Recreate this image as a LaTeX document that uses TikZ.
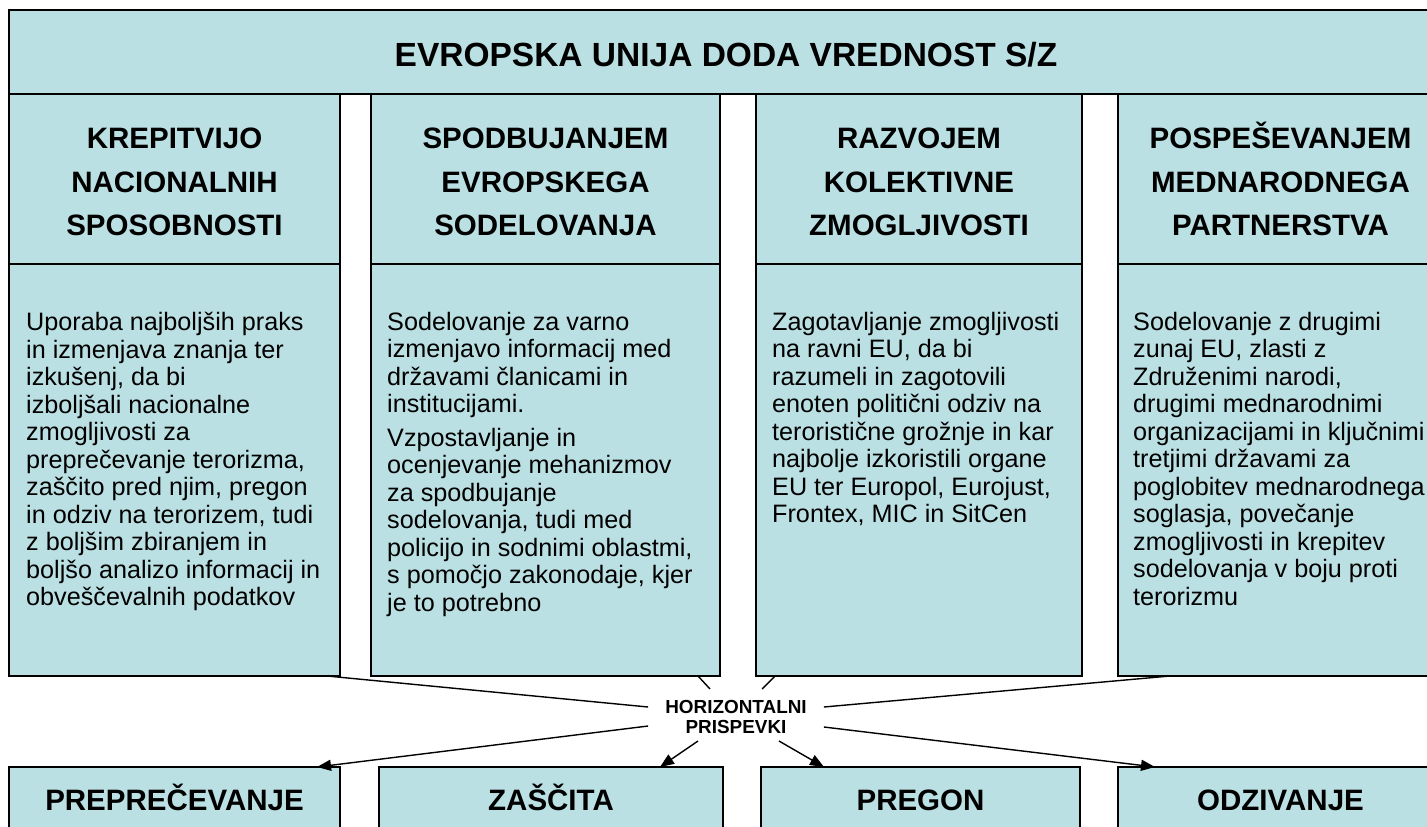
\documentclass[tikz,border=0pt]{standalone}
\usepackage{fontspec}
\setmainfont{Liberation Sans}
\usetikzlibrary{calc,positioning,arrows.meta}
\definecolor{boxblue}{RGB}{187,224,227}
\tikzstyle{banner} = [rectangle, draw=black, fill=boxblue, line width=1.5pt, outer sep=0pt, inner sep=0pt, minimum height=84pt, font=\fontsize{33.5}{40}\selectfont\bfseries]
\tikzstyle{head} = [rectangle, draw=black, fill=boxblue, line width=1.5pt, outer sep=0pt, inner sep=0pt, minimum height=170pt, align=center, font=\fontsize{29.5}{43.5}\selectfont\bfseries]
\tikzstyle{bodybox} = [rectangle, draw=black, fill=boxblue, line width=1.5pt, outer sep=0pt, minimum height=412pt]
\tikzstyle{bodytext} = [inner sep=0pt, align=left, font=\fontsize{25.2}{27.5}\selectfont]
\tikzstyle{outcome} = [rectangle, draw=black, fill=boxblue, line width=1.5pt, outer sep=0pt, inner sep=0pt, minimum height=66pt, text height=21pt, text depth=0pt, font=\fontsize{29.5}{36}\selectfont\bfseries]
\tikzstyle{contrib} = [inner xsep=17pt, inner ysep=4pt, align=center, font=\fontsize{18.9}{20}\selectfont\bfseries]
\tikzstyle{link} = [line width=1.4pt]
\tikzstyle{flow} = [line width=1.4pt, -{Triangle[length=14pt,width=11pt]}]

\begin{document}
\begin{tikzpicture}[x=1pt, y=-1pt]
    \useasboundingbox (0,0) rectangle (1427,827);
    \clip (0,0) rectangle (1427,827);

    \node(title)[banner, anchor=north west, minimum width=1434pt] at (9,10) {EVROPSKA UNIJA DODA VREDNOST S/Z\vphantom{Š}};

    % column headers
    \node(head1)[head, minimum width=331pt, below right=0pt and 0pt of title.south west] {KREPITVIJO\vphantom{Š}\\NACIONALNIH\\SPOSOBNOSTI};
    \node(head2)[head, minimum width=349pt, right=31pt of head1] {SPODBUJANJEM\vphantom{Š}\\EVROPSKEGA\\SODELOVANJA};
    \node(head3)[head, minimum width=326pt, right=36pt of head2] {RAZVOJEM\vphantom{Š}\\KOLEKTIVNE\\ZMOGLJIVOSTI};
    \node(head4)[head, minimum width=325pt, right=36pt of head3] {POSPEŠEVANJEM\\MEDNARODNEGA\\PARTNERSTVA};

    % column bodies
    \node(body1)[bodybox, minimum width=331pt, below=0pt of head1] {};
    \node(body2)[bodybox, minimum width=349pt, below=0pt of head2] {};
    \node(body3)[bodybox, minimum width=326pt, below=0pt of head3] {};
    \node(body4)[bodybox, minimum width=325pt, below=0pt of head4] {};

    \node(text1)[bodytext, below right=48pt and 17pt of body1.north west] {Uporaba najboljših praks\\in izmenjava znanja ter\\izkušenj, da bi\\izboljšali nacionalne\\zmogljivosti za\\preprečevanje terorizma,\\zaščito pred njim, pregon\\in odziv na terorizem, tudi\\z boljšim zbiranjem in\\boljšo analizo informacij in\\obveščevalnih podatkov};
    \node(text2)[bodytext, below right=48pt and 16pt of body2.north west] {Sodelovanje za varno\\izmenjavo informacij med\\državami članicami in\\institucijami.\\[6pt]Vzpostavljanje in\\ocenjevanje mehanizmov\\za spodbujanje\\sodelovanja, tudi med\\policijo in sodnimi oblastmi,\\s pomočjo zakonodaje, kjer\\je to potrebno};
    \node(text3)[bodytext, below right=48pt and 16pt of body3.north west] {Zagotavljanje zmogljivosti\\na ravni EU, da bi\\razumeli in zagotovili\\enoten politični odziv na\\teroristične grožnje in kar\\najbolje izkoristili organe\\EU ter Europol, Eurojust,\\Frontex, MIC in SitCen};
    \node(text4)[bodytext, below right=48pt and 15pt of body4.north west] {Sodelovanje z drugimi\\zunaj EU, zlasti z\\Združenimi narodi,\\drugimi mednarodnimi\\organizacijami in ključnimi\\tretjimi državami za\\poglobitev mednarodnega\\soglasja, povečanje\\zmogljivosti in krepitev\\sodelovanja v boju proti\\terorizmu};

    \node(contrib)[contrib] at (736,717) {HORIZONTALNI\\PRISPEVKI};

    % outcome boxes
    \node(bot1)[outcome, minimum width=331pt, below right=91pt and 0pt of body1.south west] {PREPREČEVANJE};
    \node(bot2)[outcome, minimum width=344pt, right=39pt of bot1] {ZAŠČITA};
    \node(bot3)[outcome, minimum width=319pt, right=38pt of bot2] {PREGON};
    \node(bot4)[outcome, minimum width=325pt, right=38pt of bot3] {ODZIVANJE};

    \draw[link] ($(body1.south east)+(-13,0)$) -- ($(contrib.west)+(0,-10)$);
    \draw[link] ($(body2.south east)+(-22,0)$) -- ($(contrib.center)+(-26,-28)$);
    \draw[link] ($(body3.south west)+(19,0)$) -- ($(contrib.center)+(26,-28)$);
    \draw[link] ($(body4.south west)+(52,0)$) -- ($(contrib.east)+(0,-10)$);

    \draw[flow] ($(contrib.west)+(0,9)$) -- ($(bot1.north east)+(-23,0)$);
    \draw[flow] ($(contrib.center)+(-38,24)$) -- ($(bot2.north east)+(-63,0)$);
    \draw[flow] ($(contrib.center)+(43,24)$) -- ($(bot3.north west)+(63,0)$);
    \draw[flow] ($(contrib.east)+(0,10)$) -- ($(bot4.north west)+(37,0)$);

\end{tikzpicture}
\end{document}
